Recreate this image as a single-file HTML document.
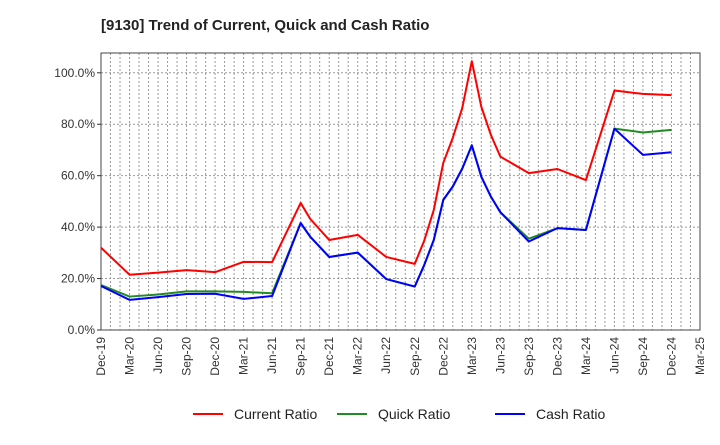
<!DOCTYPE html>
<html><head><meta charset="utf-8"><style>
body{margin:0;background:#fff;font-family:"Liberation Sans",sans-serif;}
svg text{font-family:"Liberation Sans",sans-serif;}
</style></head><body>
<svg id="c" width="720" height="440">
<text x="101" y="30" font-size="15" font-weight="bold" fill="#222">[9130]  Trend of Current, Quick and Cash Ratio</text>
<g id="grid"></g><g id="axes"></g><g id="series"></g>
<g>
<line x1="193" y1="414" x2="223" y2="414" stroke="#f00" stroke-width="2"/>
<text x="234" y="419" font-size="14" fill="#222">Current Ratio</text>
<line x1="337" y1="414" x2="367" y2="414" stroke="#228b22" stroke-width="2"/>
<text x="378" y="419" font-size="14" fill="#222">Quick Ratio</text>
<line x1="495" y1="414" x2="525" y2="414" stroke="#00f" stroke-width="2"/>
<text x="536" y="419" font-size="14" fill="#222">Cash Ratio</text>
</g>
</svg>
<script>
const xLabels=["Dec-19","Mar-20","Jun-20","Sep-20","Dec-20","Mar-21","Jun-21","Sep-21","Dec-21","Mar-22","Jun-22","Sep-22","Dec-22","Mar-23","Jun-23","Sep-23","Dec-23","Mar-24","Jun-24","Sep-24","Dec-24","Mar-25"];
const yTicks=[0,20,40,60,80,100];
const currentMonths=[0,3,6,9,12,15,18,21,22,24,27,30,33,34,35,36,37,38,39,40,41,42,45,48,51,54,57,60];
const currentVals=[32,21.5,22.3,23.3,22.5,26.5,26.4,49.4,43.2,35,37,28.4,25.7,34.8,46.7,65,74.7,86.4,104.5,86.8,75.9,67.4,61,62.6,58.3,93.1,91.8,91.3];
const quickMonths=[0,3,6,9,12,15,18,21,22,24,27,30,33,34,35,36,37,38,39,40,41,42,45,48,51,54,57,60];
const quickVals=[17.5,13,13.8,15,15,14.8,14.3,41.6,36.3,28.4,30.1,19.8,16.9,25.3,35,50.6,55.8,62.8,71.8,59.6,51.9,45.8,35.5,39.6,38.9,78.3,76.8,77.8];
const cashMonths=[0,3,6,9,12,15,18,21,22,24,27,30,33,34,35,36,37,38,39,40,41,42,45,48,51,54,57,60];
const cashVals=[17.1,11.7,12.8,14,14.1,12.1,13.2,41.6,36.3,28.4,30.1,19.8,16.9,25.3,35,50.6,55.8,62.8,71.8,59.6,51.9,45.8,34.4,39.6,38.9,78.3,68.1,69.1];
const NS="http://www.w3.org/2000/svg";
const L=101,R=700,T=53,B=330,maxM=63,yMax=107.7;
const xs=m=>L+m*(R-L)/maxM;
const ys=v=>B-v*(B-T)/yMax;
function mk(parent,tag,attrs){const e=document.createElementNS(NS,tag);for(const k in attrs)e.setAttribute(k,attrs[k]);document.getElementById(parent).appendChild(e);return e;}
for(let m=0;m<=maxM;m++){
 const g=mk('grid','line',{x1:xs(m),x2:xs(m),y1:T,y2:B,stroke:'#999','stroke-dasharray':'2,2','stroke-width':1});
 
 
}
yTicks.forEach(v=>{
 if(v>0){const g=mk('grid','line',{x1:L,x2:R,y1:ys(v),y2:ys(v),stroke:'#999','stroke-dasharray':'2,2','stroke-width':1});
 
 }
 const t=mk('axes','text',{x:L-6,y:ys(v)+4,'text-anchor':'end','font-size':12,fill:'#333'});
 t.textContent=v.toFixed(1)+'%';
 
 
 const tk=mk('axes','line',{x1:L-4,x2:L,y1:ys(v),y2:ys(v),stroke:'#333'});
 
 
});
const fr=mk('axes','rect',{x:L,y:T,width:R-L,height:B-T,fill:'none',stroke:'#444','stroke-width':1});


xLabels.forEach((lab,i)=>{
 const x=xs(i*3);
 const t=mk('axes','text',{x:0,y:0,'text-anchor':'end','font-size':12,fill:'#333',transform:`translate(${x+4},${B+7}) rotate(-90)`});
 t.textContent=lab;
 
 
});
function series(ms,vals,color,name){
 const p=mk('series','polyline',{points:ms.map((m,i)=>xs(m)+','+ys(vals[i])).join(' '),fill:'none',stroke:color,'stroke-width':2,'stroke-linejoin':'round'});
 
 
}
series(quickMonths,quickVals,'#228b22','quick-ratio-line');
series(cashMonths,cashVals,'#0000ff','cash-ratio-line');
series(currentMonths,currentVals,'#ff0000','current-ratio-line');
</script>
</body></html>
